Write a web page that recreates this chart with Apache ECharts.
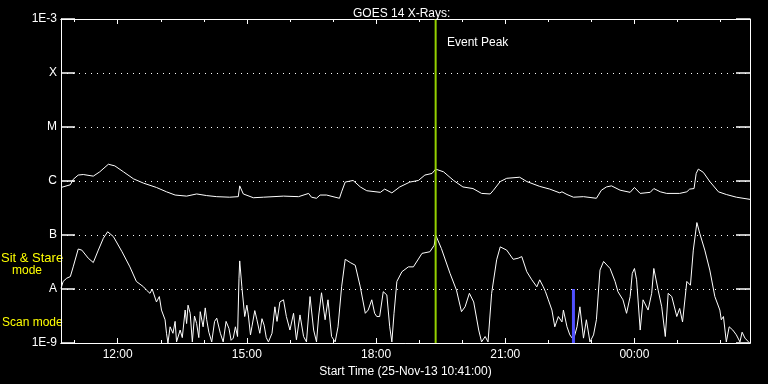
<!DOCTYPE html>
<html><head><meta charset="utf-8">
<script src="https://cdn.jsdelivr.net/npm/echarts@6/dist/echarts.min.js"></script>
<style>html,body{margin:0;padding:0;background:#000}#c{width:768px;height:384px}</style>
</head><body><div id="c"></div>
<script>
// time in minutes since 00:00 of 25-Nov-13 (1440 = 00:00 next day)
const startMin = 641, endMin = 1601;
const majorTicks = [720, 900, 1080, 1260, 1440];
const tickLabels = ['12:00', '15:00', '18:00', '21:00', '00:00'];
const minorTicks = [660, 780, 840, 960, 1020, 1140, 1200, 1320, 1380, 1500, 1560];
const yLevels = [-9, -8, -7, -6, -5, -4, -3];
const yLabels = ['1E-9', 'A', 'B', 'C', 'M', 'X', '1E-3'];
const eventPeak = 1163;
const blueMarkTime = 1355;
const blueMarkRange = [-9, -8];

// long channel, log10(flux W/m^2)
const upperTimes = [641,654,658,665,672,686,695,707,716,728,742,756,774,788,800,816,830,844,858,876,888,890,895,909,923,951,972,986,990,997,1002,1011,1020,1029,1032,1037,1048,1058,1067,1086,1092,1102,1113,1127,1139,1148,1158,1163,1174,1188,1201,1215,1227,1239,1243,1253,1262,1280,1290,1308,1322,1336,1339,1346,1355,1369,1387,1394,1401,1408,1420,1434,1440,1448,1462,1467,1476,1485,1503,1513,1517,1523,1526,1529,1536,1545,1557,1568,1582,1601];
const upperLog = [-6.12,-6.07,-5.97,-5.89,-5.88,-5.91,-5.83,-5.69,-5.72,-5.83,-5.96,-6.04,-6.12,-6.20,-6.26,-6.28,-6.24,-6.27,-6.29,-6.30,-6.29,-6.09,-6.24,-6.31,-6.30,-6.28,-6.29,-6.23,-6.30,-6.32,-6.26,-6.26,-6.29,-6.32,-6.20,-6.02,-5.99,-6.11,-6.18,-6.21,-6.15,-6.22,-6.11,-6.02,-5.99,-5.89,-5.86,-5.78,-5.83,-5.99,-6.11,-6.14,-6.23,-6.24,-6.18,-6.01,-5.95,-5.93,-6.01,-6.10,-6.15,-6.22,-6.20,-6.25,-6.30,-6.29,-6.32,-6.17,-6.11,-6.09,-6.17,-6.21,-6.12,-6.23,-6.21,-6.14,-6.20,-6.23,-6.23,-6.20,-6.15,-6.14,-5.86,-5.78,-5.84,-6.01,-6.20,-6.25,-6.30,-6.34];

// short channel, log10(flux W/m^2)
const lowerTimes = [641,644,649,654,658,665,670,679,686,693,700,706,714,726,737,746,756,760,765,768,774,778,781,786,788,790,793,797,800,802,807,810,814,816,818,821,824,827,830,833,835,839,842,844,847,851,855,858,863,867,871,875,878,881,884,887,889,890,893,897,900,902,905,907,911,914,918,921,924,927,930,935,939,942,946,951,955,960,965,969,974,979,983,988,993,997,1000,1004,1009,1013,1018,1023,1027,1032,1037,1044,1051,1058,1065,1069,1074,1078,1081,1085,1090,1095,1099,1102,1105,1109,1116,1125,1132,1144,1155,1161,1163,1171,1183,1192,1199,1204,1210,1216,1223,1227,1232,1236,1241,1248,1253,1262,1271,1278,1283,1290,1297,1304,1308,1313,1316,1320,1325,1329,1334,1339,1341,1346,1350,1355,1360,1364,1369,1373,1378,1383,1387,1392,1397,1406,1413,1417,1424,1429,1434,1437,1440,1443,1448,1452,1459,1464,1467,1473,1478,1483,1487,1492,1499,1503,1507,1513,1518,1522,1527,1531,1538,1545,1552,1559,1561,1564,1568,1572,1577,1582,1587,1590,1594,1599];
const lowerLog = [-7.99,-7.86,-7.80,-7.77,-7.59,-7.26,-7.28,-7.43,-7.51,-7.28,-7.06,-6.94,-7.03,-7.31,-7.59,-7.86,-7.96,-8.02,-8.08,-8.00,-8.24,-8.14,-8.39,-8.57,-8.82,-9.00,-8.70,-8.82,-8.60,-8.98,-8.76,-8.90,-8.39,-8.64,-8.30,-8.45,-8.98,-8.50,-8.64,-8.90,-8.42,-8.70,-8.35,-8.57,-8.80,-8.98,-8.60,-8.54,-8.82,-8.98,-8.60,-8.73,-8.95,-8.91,-8.70,-8.88,-7.80,-7.48,-7.96,-8.51,-8.30,-8.48,-8.85,-8.70,-8.40,-8.57,-8.82,-8.55,-8.67,-8.90,-8.98,-8.82,-8.33,-8.60,-8.24,-8.20,-8.51,-8.76,-8.45,-8.94,-8.48,-8.88,-8.98,-8.14,-8.76,-8.98,-8.50,-8.07,-8.57,-8.20,-8.88,-8.98,-8.70,-7.96,-7.45,-7.51,-7.56,-7.96,-8.45,-8.39,-8.20,-8.45,-8.51,-8.51,-8.05,-8.11,-8.70,-8.98,-8.45,-7.86,-7.68,-7.59,-7.59,-7.34,-7.31,-7.19,-7.00,-7.25,-7.71,-8.02,-8.42,-8.33,-8.08,-8.24,-8.76,-8.98,-8.88,-8.98,-8.08,-7.46,-7.22,-7.28,-7.45,-7.43,-7.40,-7.68,-7.83,-7.96,-7.83,-7.96,-8.05,-8.20,-8.39,-8.70,-8.51,-8.61,-8.39,-8.70,-8.85,-8.94,-8.70,-8.33,-8.91,-8.57,-8.98,-8.85,-8.57,-7.65,-7.49,-7.62,-7.86,-8.05,-8.20,-8.45,-8.14,-7.71,-7.62,-7.83,-8.76,-8.20,-8.39,-8.08,-7.62,-8.02,-8.33,-8.88,-8.08,-8.14,-8.51,-8.36,-8.61,-7.86,-7.93,-7.28,-6.77,-6.97,-7.28,-7.65,-8.14,-8.39,-8.57,-8.51,-8.98,-8.70,-8.76,-8.85,-8.98,-8.80,-8.91,-8.98];

const FONT = 'Liberation Sans';
const fmtTime = v => tickLabels[majorTicks.indexOf(v)] || '';
const fmtY = v => yLabels[yLevels.indexOf(Math.round(v))] || '';

function xAx(position, ticks, len, withLabel) {
  return {
    type: 'value', min: startMin, max: endMin, position: position,
    axisLine: { show: true, lineStyle: { color: '#fff', width: 1 } },
    axisTick: { show: true, inside: true, length: len, customValues: ticks, lineStyle: { color: '#fff', width: 1 } },
    axisLabel: withLabel ? { show: true, customValues: majorTicks, formatter: fmtTime, color: '#fff', fontFamily: FONT, fontSize: 12, margin: 6 } : { show: false },
    splitLine: { show: false },
    name: withLabel ? 'Start Time (25-Nov-13 10:41:00)' : '',
    nameLocation: 'middle', nameGap: 20,
    nameTextStyle: { color: '#fff', fontFamily: FONT, fontSize: 12 }
  };
}
function yAx(position, withLabel) {
  return {
    type: 'value', min: -9, max: -3, interval: 1, position: position,
    axisLine: { show: true, lineStyle: { color: '#fff', width: 1 } },
    axisTick: { show: true, inside: true, length: 14, lineStyle: { color: '#fff', width: 1.5 } },
    axisLabel: withLabel ? { show: true, formatter: fmtY, color: '#fff', fontFamily: FONT, fontSize: 12, margin: 4 } : { show: false },
    splitLine: withLabel ? { show: true, lineStyle: { color: '#fff', width: 1, type: [1, 5] } } : { show: false },
    z: 5
  };
}

const chart = echarts.init(document.getElementById('c'), null, { renderer: 'canvas' });
chart.setOption({
  backgroundColor: '#000',
  animation: false,
  title: { text: 'GOES 14 X-Rays:', left: 348, top: 3, textStyle: { color: '#fff', fontFamily: FONT, fontSize: 12, fontWeight: 'normal' } },
  grid: { left: 61, right: 18, top: 19, bottom: 41 },
  xAxis: [
    xAx('bottom', majorTicks, 5, true),
    xAx('bottom', minorTicks, 3, false),
    xAx('top', majorTicks, 5, false),
    xAx('top', minorTicks, 3, false)
  ],
  yAxis: [yAx('left', true), yAx('right', false)],
  graphic: [
    { type: 'text', left: 447, top: 37, style: { text: 'Event Peak', fill: '#fff', font: '12px "Liberation Sans"' } },
    { type: 'text', left: 1, top: 252, style: { text: 'Sit & Stare', fill: '#ffff00', font: '13px "Liberation Sans"' } },
    { type: 'text', left: 12, top: 265, style: { text: 'mode', fill: '#ffff00', font: '12px "Liberation Sans"' } },
    { type: 'text', left: 2, top: 317, style: { text: 'Scan mode', fill: '#ffff00', font: '12px "Liberation Sans"' } }
  ],
  series: [
    { type: 'line', name: 'long', showSymbol: false, data: upperTimes.map((t, i) => [t, upperLog[i]]), lineStyle: { color: '#fff', width: 1 }, itemStyle: { color: '#fff' } },
    { type: 'line', name: 'short', showSymbol: false, data: lowerTimes.map((t, i) => [t, lowerLog[i]]), lineStyle: { color: '#fff', width: 1 }, itemStyle: { color: '#fff' } },
    { type: 'line', name: 'blue', showSymbol: false, data: blueMarkRange.map(v => [blueMarkTime, v]), lineStyle: { color: '#5050ff', width: 3 }, z: 3 },
    { type: 'line', name: 'peak', showSymbol: false, data: [[eventPeak, -9], [eventPeak, -3]], lineStyle: { color: '#94d000', width: 2 }, z: 4 }
  ]
});
</script></body></html>
